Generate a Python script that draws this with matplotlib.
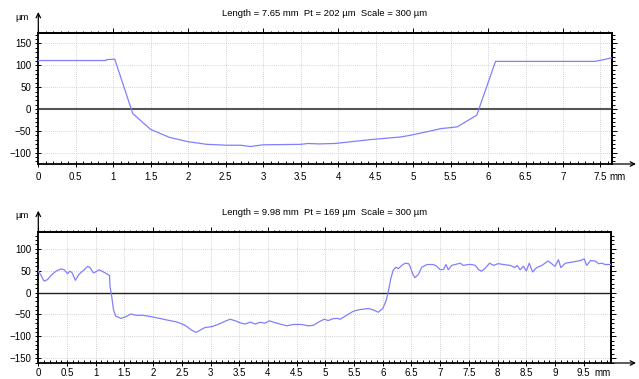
import matplotlib
matplotlib.use("Agg")
import matplotlib.pyplot as plt
from matplotlib.ticker import MultipleLocator, NullFormatter, FuncFormatter

plt.rcParams['font.family'] = ['Liberation Sans', 'DejaVu Sans']

# ---- data: profile 1 (x in mm, height in um) ----
x1 = [0.0, 0.90, 0.91, 1.02, 1.26, 1.50, 1.75, 2.00, 2.25, 2.52, 2.70, 2.83, 3.00,
      3.50, 3.60, 3.74, 3.96, 4.44, 4.84, 4.97, 5.19, 5.37, 5.59, 5.85, 6.10, 7.43, 7.65]
y1 = [111, 111, 113, 114, -10.5, -47, -65, -75, -81, -83, -83, -86, -82,
      -81, -79, -80, -79, -70, -64, -60, -52, -45, -41, -14, 109, 109, 117]

# ---- data: profile 2 ----
x2 = [0.00, 0.05, 0.10, 0.16, 0.22, 0.31, 0.40, 0.45, 0.51, 0.55, 0.59, 0.645, 0.71,
      0.80, 0.86, 0.90, 0.96, 1.00, 1.06, 1.12, 1.19, 1.24, 1.25, 1.28, 1.31, 1.35,
      1.44, 1.53, 1.61, 1.70, 1.82, 1.96, 2.11, 2.25, 2.40, 2.47, 2.54, 2.59, 2.67,
      2.75, 2.82, 2.90, 3.02, 3.11, 3.22, 3.34, 3.43, 3.51, 3.60, 3.69, 3.78, 3.86,
      3.95, 4.02, 4.09, 4.21, 4.33, 4.44, 4.59, 4.70, 4.79, 4.88, 4.98, 5.05, 5.13,
      5.20, 5.26, 5.37, 5.49, 5.60, 5.75, 5.84, 5.92, 6.00, 6.06, 6.10, 6.14, 6.18,
      6.23, 6.27, 6.33, 6.39, 6.45, 6.48, 6.52, 6.56, 6.62, 6.68, 6.77, 6.88, 6.94,
      7.00, 7.06, 7.10, 7.14, 7.20, 7.35, 7.40, 7.49, 7.55, 7.61, 7.67, 7.72, 7.78,
      7.86, 7.93, 8.01, 8.10, 8.22, 8.30, 8.34, 8.39, 8.45, 8.50, 8.55, 8.61, 8.68,
      8.77, 8.88, 8.94, 9.00, 9.06, 9.10, 9.18, 9.32, 9.44, 9.51, 9.55, 9.62, 9.70,
      9.76, 9.82, 9.87, 9.96, 9.98]
y2 = [49, 39, 26, 29.5, 39, 49, 54, 52, 43, 49, 45, 28, 42,
      52, 60, 57, 45, 47, 52, 48, 43, 39, 13, -10, -40, -54,
      -59, -55, -49, -52, -52, -55, -59, -63, -67, -70, -74, -78, -86,
      -91, -86, -80, -78, -74, -67.5, -61, -64.5, -69, -72, -67.5, -72, -68,
      -70, -64.5, -67.5, -72, -76, -73, -73, -76, -75, -67.5, -61, -64, -60,
      -59, -61, -52, -42.5, -39, -36.5, -40, -45, -36.5, -17.5, 5, 32, 50.7,
      58, 54.5, 62, 67, 66, 58, 43, 34, 41.5, 58, 64, 64, 60,
      52, 53, 64, 52, 62, 67, 62, 64, 64, 62, 52, 49, 55,
      67, 62, 66, 64, 62, 57, 62, 52, 60, 49, 67, 47, 57,
      62, 72, 66, 60, 75, 57, 67, 70, 73, 77, 62, 73, 72,
      66, 67, 64, 64, 65]

titles = ["Length = 7.65 mm  Pt = 202 \u00b5m  Scale = 300 \u00b5m",
          "Length = 9.98 mm  Pt = 169 \u00b5m  Scale = 300 \u00b5m"]
xlims = [(0, 7.65), (0, 9.98)]
ylims = [(-126, 174), (-161, 139)]
yticks = [[-100, -50, 0, 50, 100, 150], [-150, -100, -50, 0, 50, 100]]

W, H = 639, 379
fig = plt.figure(figsize=(W / 100, H / 100), dpi=100)

# axes boxes in pixels: (left, top, right, bottom)
boxes = [(38.3, 33, 611.7, 164), (38.3, 231.7, 611.3, 363)]
xpads = [3, 1.2]
mm_dy = [12.5, 10.5]
line_color = '#8080ff'
fs_tick = 7.0
fs_title = 6.8

for i in range(2):
    l, t, r, b = boxes[i]
    ax = fig.add_axes([l / W, 1 - b / H, (r - l) / W, (b - t) / H])
    ax.set_xlim(*xlims[i])
    ax.set_ylim(*ylims[i])
    ax.plot(x1 if i == 0 else x2, y1 if i == 0 else y2, color=line_color, lw=0.9, zorder=3)
    ax.axhline(0, color='#555555' if i == 0 else '#222222', lw=1.5 if i == 0 else 1.0, zorder=2)

    ax.xaxis.set_major_locator(MultipleLocator(0.5))
    ax.xaxis.set_minor_locator(MultipleLocator(0.1))
    ax.set_yticks(yticks[i])
    ax.yaxis.set_minor_locator(MultipleLocator(10))
    ax.xaxis.set_major_formatter(FuncFormatter(lambda v, p: ('%g' % v)))
    ax.grid(True, which='major', color='#c4c4c4', lw=0.6, ls=(0, (1, 1.5)))
    ax.set_axisbelow(True)

    for s in ax.spines.values():
        s.set_color('black')
        s.set_linewidth(1.3)

    ax.tick_params(axis='x', which='major', direction='inout', length=5, width=0.7,
                   labelsize=fs_tick, pad=xpads[i])
    ax.tick_params(axis='x', which='minor', direction='in', length=2.2, width=0.7)
    ax.tick_params(axis='y', which='major', direction='inout', length=5, width=0.7,
                   labelsize=fs_tick, pad=2.5)
    ax.tick_params(axis='y', which='minor', direction='out', length=2.2, width=0.7)

    # top ticks
    sx = ax.secondary_xaxis('top')
    sx.xaxis.set_major_locator(MultipleLocator(1))
    sx.xaxis.set_minor_locator(MultipleLocator(0.1))
    sx.xaxis.set_major_formatter(NullFormatter())
    sx.tick_params(which='major', direction='out', length=3.5, width=0.7)
    sx.tick_params(which='minor', direction='out', length=1.6, width=0.7)
    sx.spines['top'].set_linewidth(1.3)

    # right ticks
    sy = ax.secondary_yaxis('right')
    sy.yaxis.set_major_locator(MultipleLocator(50))
    sy.yaxis.set_minor_locator(MultipleLocator(10))
    sy.yaxis.set_major_formatter(NullFormatter())
    sy.tick_params(which='major', direction='out', length=3.5, width=0.7)
    sy.tick_params(which='minor', direction='out', length=1.8, width=0.7)
    sy.spines['right'].set_linewidth(1.3)

    # title
    fig.text(((l + r) / 2) / W, 1 - (t - 19) / H, titles[i], ha='center', va='center',
             fontsize=fs_title)
    # unit labels
    fig.text(15 / W, 1 - (t - 16) / H, "\u00b5m", ha='left', va='center', fontsize=fs_title)
    mm_x = 609 if i == 0 else 594
    fig.text(mm_x / W, 1 - (b + mm_dy[i]) / H, "mm", ha='left', va='center', fontsize=fs_tick)

    # arrows
    ax.annotate('', xy=(l / W, 1 - (t - 21) / H), xycoords='figure fraction',
                xytext=(l / W, 1 - t / H), textcoords='figure fraction',
                arrowprops=dict(arrowstyle='->', lw=0.9, color='black', shrinkA=0, shrinkB=0,
                                mutation_scale=8))
    ax.annotate('', xy=(636 / W, 1 - b / H), xycoords='figure fraction',
                xytext=(r / W, 1 - b / H), textcoords='figure fraction',
                arrowprops=dict(arrowstyle='->', lw=0.9, color='black', shrinkA=0, shrinkB=0,
                                mutation_scale=8))

fig.savefig('out.png', dpi=100)
